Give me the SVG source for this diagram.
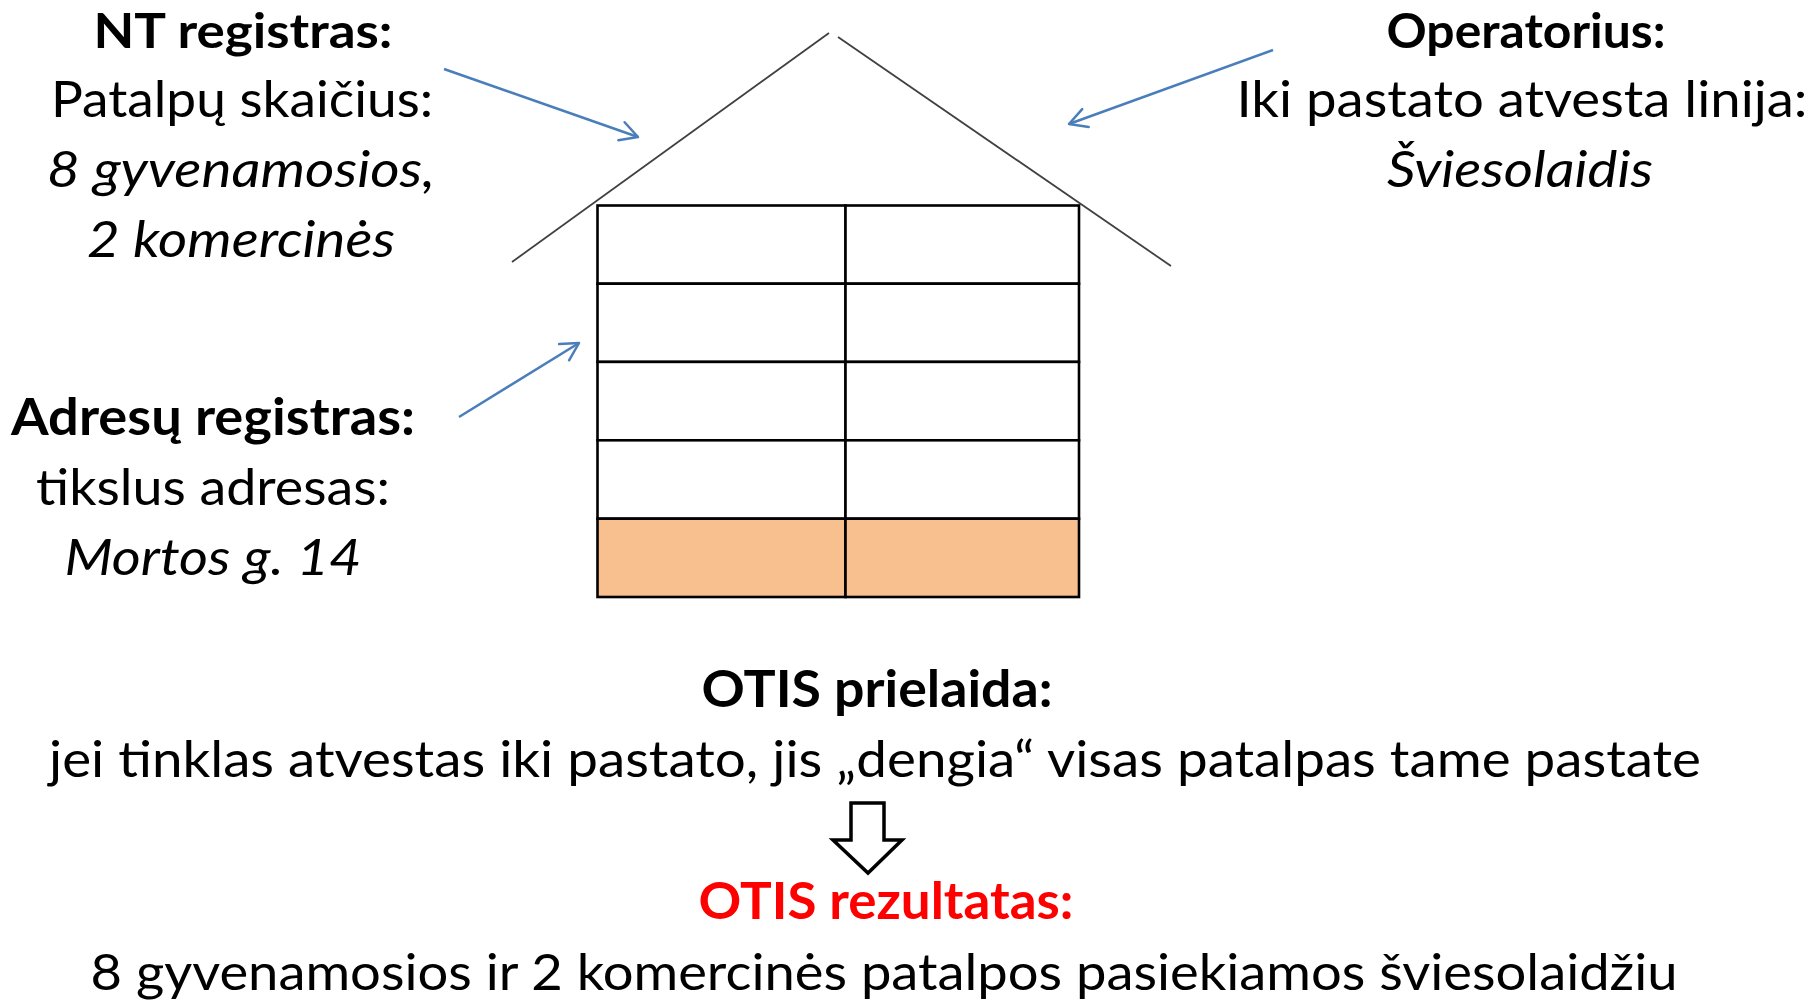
<svg xmlns="http://www.w3.org/2000/svg" width="1817" height="1000" viewBox="0 0 1817 1000">
<style>
text{font-family:Lato,"Liberation Sans",sans-serif;font-size:51px;fill:#000;text-anchor:middle}
.b{font-weight:bold}
.top{font-size:48px}
.i{font-style:italic}
.red{fill:#FF0000}
.roof{stroke:#404040;stroke-width:1.8;fill:none}
.cell{stroke:#000;stroke-width:2.6;fill:#fff}
.ground{fill:#F8BF8F}
.conn{stroke:#4A7EBB;stroke-width:2.5;fill:none;marker-end:url(#ah)}
</style>
<defs>
<marker id="ah" markerUnits="userSpaceOnUse" viewBox="0 0 22 22" markerWidth="22" markerHeight="22" refX="20" refY="11" orient="auto">
<path d="M2.5,1.5 L20,11 L2.5,20.5" fill="none" stroke="#4A7EBB" stroke-width="2.5" stroke-linecap="round" stroke-linejoin="round"/>
</marker>
</defs>
<rect width="1817" height="1000" fill="#fff"/>
<g id="house">
<line class="roof" x1="512" y1="262" x2="829" y2="33"/>
<line class="roof" x1="838" y1="37" x2="1171" y2="266"/>
<rect class="cell" x="597.5" y="205.5" width="248" height="78.2"/>
<rect class="cell" x="845.5" y="205.5" width="233.5" height="78.2"/>
<rect class="cell" x="597.5" y="283.7" width="248" height="78.2"/>
<rect class="cell" x="845.5" y="283.7" width="233.5" height="78.2"/>
<rect class="cell" x="597.5" y="361.9" width="248" height="78.4"/>
<rect class="cell" x="845.5" y="361.9" width="233.5" height="78.4"/>
<rect class="cell" x="597.5" y="440.3" width="248" height="78.4"/>
<rect class="cell" x="845.5" y="440.3" width="233.5" height="78.4"/>
<rect class="cell ground" x="597.5" y="518.7" width="248" height="78.3"/>
<rect class="cell ground" x="845.5" y="518.7" width="233.5" height="78.3"/>
</g>
<g id="nt-registras">
<text class="b top" x="243" y="48" textLength="299" lengthAdjust="spacingAndGlyphs">NT registras:</text>
<text x="242" y="117" textLength="382" lengthAdjust="spacingAndGlyphs">Patalpų skaičius:</text>
<text class="i" x="241" y="187" textLength="388" lengthAdjust="spacingAndGlyphs">8 gyvenamosios,</text>
<text class="i" x="241" y="257" textLength="308" lengthAdjust="spacingAndGlyphs">2 komercinės</text>
</g>
<g id="operatorius">
<text class="b top" x="1526" y="48" textLength="279" lengthAdjust="spacingAndGlyphs">Operatorius:</text>
<text x="1522" y="117" textLength="571" lengthAdjust="spacingAndGlyphs">Iki pastato atvesta linija:</text>
<text class="i" x="1520" y="187" textLength="266" lengthAdjust="spacingAndGlyphs">Šviesolaidis</text>
</g>
<g id="adresu-registras">
<text class="b" x="213" y="435" textLength="404" lengthAdjust="spacingAndGlyphs">Adresų registras:</text>
<text x="213" y="505" textLength="354" lengthAdjust="spacingAndGlyphs">tikslus adresas:</text>
<text class="i" x="213" y="575" textLength="297" lengthAdjust="spacingAndGlyphs">Mortos g. 14</text>
</g>
<g id="otis-prielaida">
<text class="b" x="877" y="707" textLength="351" lengthAdjust="spacingAndGlyphs">OTIS prielaida:</text>
<text x="875" y="777" textLength="1652" lengthAdjust="spacingAndGlyphs">jei tinklas atvestas iki pastato, jis „dengia“ visas patalpas tame pastate</text>
</g>
<g id="down-arrow">
<polygon points="851,803 884,803 884,840 902,840 868,873 833,840 851,840" fill="#fff" stroke="#000" stroke-width="3.5"/>
</g>
<g id="otis-rezultatas">
<text class="b red" x="886" y="919" textLength="375" lengthAdjust="spacingAndGlyphs">OTIS rezultatas:</text>
<text x="884" y="990" textLength="1587" lengthAdjust="spacingAndGlyphs">8 gyvenamosios ir 2 komercinės patalpos pasiekiamos šviesolaidžiu</text>
</g>
<g id="connectors">
<line class="conn" x1="444" y1="69" x2="638" y2="137"/>
<line class="conn" x1="1273" y1="50" x2="1069" y2="124"/>
<line class="conn" x1="459" y1="417" x2="579" y2="343"/>
</g>
</svg>
